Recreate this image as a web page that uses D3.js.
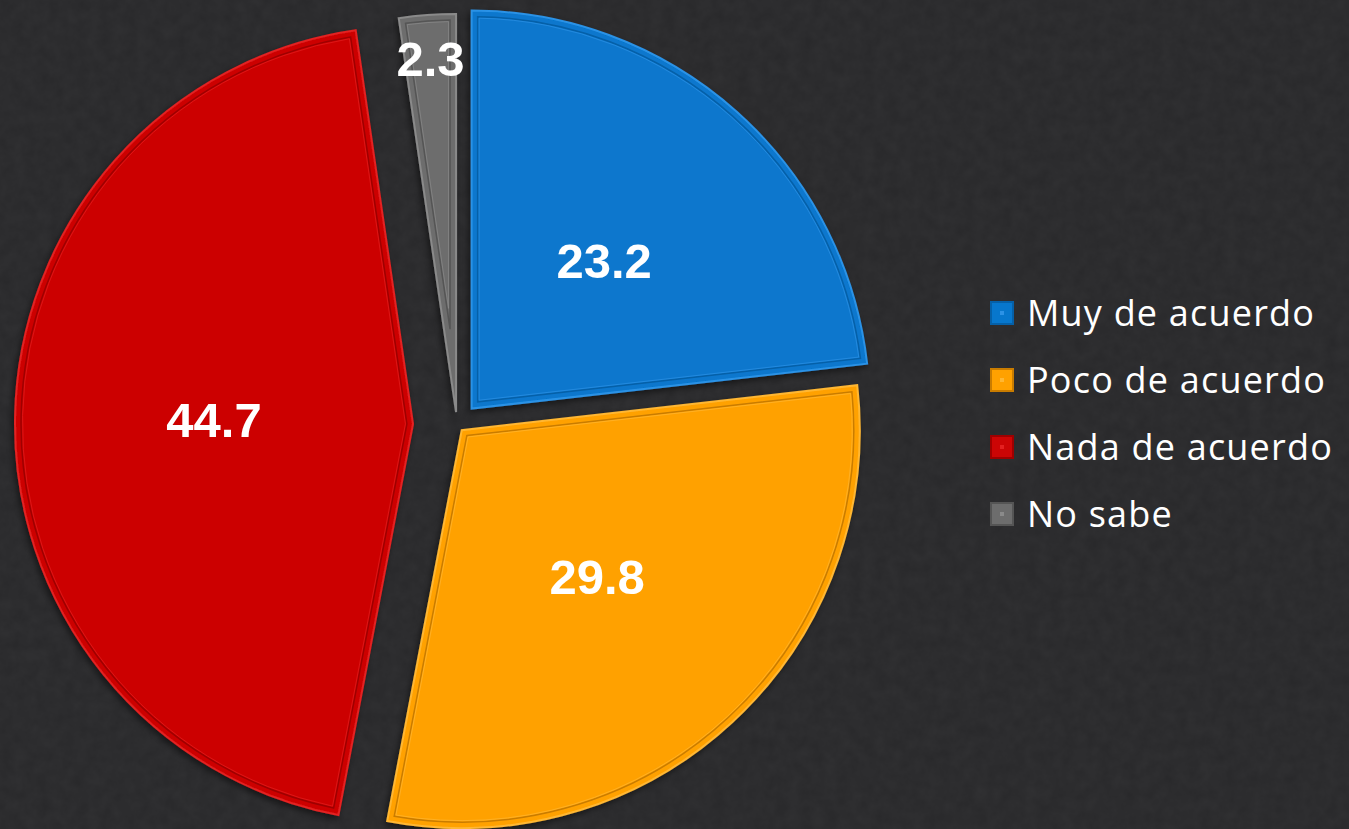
<!DOCTYPE html>
<html>
<head>
<meta charset="utf-8">
<script src="https://cdn.jsdelivr.net/npm/d3@7"></script>
<style>
  html, body { margin: 0; padding: 0; background: #29292b; }
  svg { display: block; }
</style>
</head>
<body>
<div id="chart-area"></div>
<script>
// datos
const categories = ["Muy de acuerdo", "Poco de acuerdo", "Nada de acuerdo", "No sabe"];
const values = [23.2, 29.8, 44.7, 2.3];
const colors = ["#0777cd", "#ffa100", "#cc0505", "#6d6d6d"];
const edgeColors = ["#0560a8", "#c97c00", "#9e0000", "#555555"];
const lightColors = ["#2c92e6", "#ffb733", "#e42020", "#8a8a8a"];
const explode = [22, 7, 44, 13];   // separación de cada porción

const data = categories.map((c, i) => ({ name: c, value: values[i], i: i }));

const width = 1349;
const height = 829;
const cx = 457, cy = 425, r = 398;

const svg = d3.select("#chart-area")
    .append("svg")
    .attr("width", width)
    .attr("height", height);

// fondo con textura
const defs = svg.append("defs");
const noise = defs.append("filter").attr("id", "noise")
    .attr("x", 0).attr("y", 0).attr("width", "100%").attr("height", "100%");
noise.append("feTurbulence").attr("type", "fractalNoise")
    .attr("baseFrequency", 0.08).attr("numOctaves", 3).attr("seed", 4);
noise.append("feColorMatrix").attr("type", "matrix")
    .attr("values", "0 0 0 0 1  0 0 0 0 1  0 0 0 0 1  0 0 0 0.04 0");

const shadow = defs.append("filter").attr("id", "shadow")
    .attr("x", "-10%").attr("y", "-10%").attr("width", "120%").attr("height", "120%");
shadow.append("feDropShadow").attr("dx", -2).attr("dy", 3)
    .attr("stdDeviation", 3).attr("flood-color", "#000").attr("flood-opacity", 0.5);

svg.append("rect").attr("width", width).attr("height", height).attr("fill", "#28282a");
svg.append("rect").attr("width", width).attr("height", height).attr("filter", "url(#noise)");

const pie = d3.pie().sort(null).value(d => d.value);
const arcs = pie(data);

const arc = d3.arc().innerRadius(0).outerRadius(r);

// contorno interior (bisel) de una porción
function insetPath(d, e) {
    const half = (d.endAngle - d.startAngle) / 2;
    const mid = d.startAngle + half;
    const h = e / Math.sin(half);
    const dl = Math.asin(e / (r - e));
    const p = d3.path();
    p.moveTo(h * Math.sin(mid), -h * Math.cos(mid));
    const a0 = d.startAngle + dl - Math.PI / 2;
    const a1 = d.endAngle - dl - Math.PI / 2;
    p.lineTo((r - e) * Math.cos(a0), (r - e) * Math.sin(a0));
    p.arc(0, 0, r - e, a0, a1, false);
    p.closePath();
    return p.toString();
}

const slices = svg.selectAll(".slice")
    .data(arcs)
    .enter()
    .append("g")
    .attr("class", "slice")
    .attr("transform", d => {
        const mid = (d.startAngle + d.endAngle) / 2;
        const k = explode[d.data.i];
        return `translate(${cx + k * Math.sin(mid)},${cy - k * Math.cos(mid)})`;
    });

slices.append("path")
    .attr("d", arc)
    .attr("fill", d => colors[d.data.i])
    .attr("stroke", d => lightColors[d.data.i])
    .attr("stroke-width", 2)
    .attr("filter", "url(#shadow)");

slices.append("path")
    .attr("d", d => insetPath(d, 6))
    .attr("fill", "none")
    .attr("stroke", d => edgeColors[d.data.i])
    .attr("stroke-width", 1.5);

slices.append("path")
    .attr("d", d => insetPath(d, 7.5))
    .attr("fill", "none")
    .attr("stroke", d => lightColors[d.data.i])
    .attr("stroke-opacity", 0.7)
    .attr("stroke-width", 1);

// etiquetas
const labelArc = d3.arc().innerRadius(r * 0.5).outerRadius(r * 0.5);
const outerLabelArc = d3.arc().innerRadius(r * 0.89).outerRadius(r * 0.89);

slices.append("text")
    .attr("transform", d => {
        const c = (d.data.value < 5 ? outerLabelArc : labelArc).centroid(d);
        return `translate(${c[0]},${c[1]})`;
    })
    .attr("text-anchor", "middle")
    .attr("dy", "0.36em")
    .attr("fill", "#ffffff")
    .style("font-family", "'Liberation Sans', Arial, sans-serif")
    .style("font-weight", "bold")
    .style("font-size", "49px")
    .text(d => d3.format(".1f")(d.data.value));

// leyenda
const legend = svg.selectAll(".legend")
    .data(data)
    .enter()
    .append("g")
    .attr("class", "legend")
    .attr("transform", (d, i) => `translate(991,${313 + i * 67})`);

legend.append("rect")
    .attr("x", 0).attr("y", -11)
    .attr("width", 22).attr("height", 22)
    .attr("fill", d => colors[d.i])
    .attr("stroke", d => edgeColors[d.i])
    .attr("stroke-width", 2);

legend.append("rect")
    .attr("x", 9).attr("y", -2)
    .attr("width", 4).attr("height", 4)
    .attr("fill", d => lightColors[d.i]);

legend.append("text")
    .attr("x", 36)
    .attr("y", 0)
    .attr("dy", "0.35em")
    .attr("fill", "#ffffff")
    .style("font-family", "'Open Sans', sans-serif")
    .style("font-size", "36px")
    .style("letter-spacing", "1.2px")
    .text(d => d.name);
</script>
</body>
</html>
